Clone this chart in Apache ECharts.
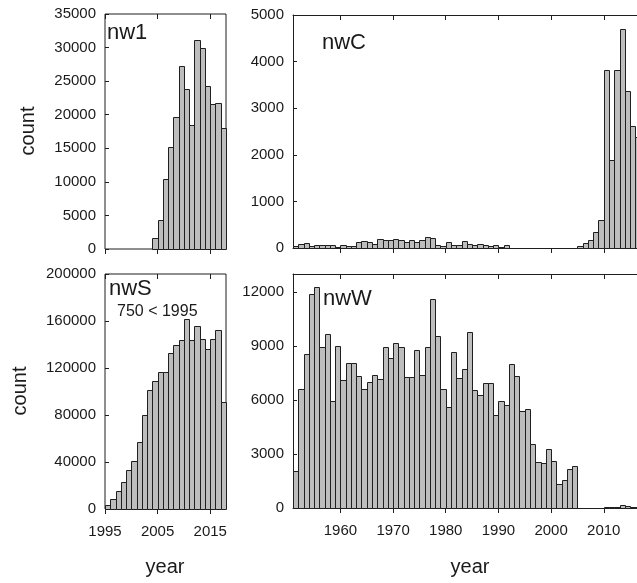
<!DOCTYPE html>
<html>
<head>
<meta charset="utf-8">
<script src="https://cdn.jsdelivr.net/npm/echarts@6/dist/echarts.min.js"></script>
<style>
html,body{margin:0;padding:0;background:#fff;}
#c{width:637px;height:583px;}
</style>
</head>
<body>
<div id="c"></div>
<script>
// ---- data ----
const nw1Start = 2004;
const nw1Counts = [1700, 4300, 10500, 15200, 19700, 27200, 23800, 18400, 31200, 30000, 24300, 21600, 21700, 18000];

const nwSStart = 1995;
const nwSCounts = [3000, 8500, 15300, 23000, 33000, 40800, 57000, 79700, 101000, 109000, 117000, 116500,
  133000, 140000, 143500, 162000, 143500, 155500, 145000, 136500, 144500, 152000, 91000];

const nwCStart = 1951;
const nwCCounts = [50, 80, 115, 50, 75, 65, 60, 65, 30, 70, 40, 50, 125, 150, 125, 90, 200, 175, 175, 185,
  175, 130, 180, 120, 170, 230, 210, 75, 50, 130, 65, 65, 145, 87, 72, 87, 58, 36, 65, 22, 72, 0,
  0, 0, 0, 0, 0, 0, 0, 0, 0, 0, 0, 0,
  35, 107, 164, 343, 607, 3830, 1890, 3830, 4690, 3360, 2610, 2390];

const nwWStart = 1951;
const nwWCounts = [2050, 6590, 8580, 11900, 12300, 8920, 9650, 5930, 8990, 7110, 8070, 8070, 7350, 6590,
  7020, 7380, 7160, 8940, 8340, 9190, 8920, 7290, 7290, 8800, 7400, 8920, 11630, 9540, 6590, 5610,
  8640, 7240, 7700, 9780, 6570, 6300, 6940, 6920, 5170, 5930, 5740, 7980, 7350, 5410, 5500, 3540,
  2550, 2510, 3270, 2600, 1310, 1570, 2180, 2360,
  0, 0, 0, 0, 0, 60, 30, 80, 160, 100, 60, 50];

const leftTicks = [1995, 2005, 2015];
const rightTicks = [1960, 1970, 1980, 1990, 2000, 2010];
const yTicks1 = [0, 5000, 10000, 15000, 20000, 25000, 30000, 35000];
const yTicksC = [0, 1000, 2000, 3000, 4000, 5000];
const yTicksS = [0, 40000, 80000, 120000, 160000, 200000];
const yTicksW = [0, 3000, 6000, 9000, 12000];

function toPairs(start, arr) { return arr.map((v, i) => [start + i, v]); }

// ---- chart ----
const chart = echarts.init(document.getElementById('c'), null, {renderer: 'canvas'});
const FONT = '"Liberation Sans", Arial, sans-serif';
const TXT = '#1a1a1a';
const LINE = '#1f1f1f';

// right-hand panels run off the page edge (cropped), so no right border there
const grids = [
  {left: 105, top: 14, width: 121, height: 235, show: true},
  {left: 293, top: 15, width: 344, height: 233, show: false},
  {left: 105, top: 274, width: 121, height: 235, show: true},
  {left: 293, top: 274, width: 344, height: 234, show: false}
].map(g => Object.assign(g, {borderColor: LINE, borderWidth: 1, backgroundColor: 'transparent'}));

const xRanges = [[1995, 2018], [1951, 2016.31], [1995, 2018], [1951, 2016.31]];
const xTickSets = [leftTicks, rightTicks, leftTicks, rightTicks];
const yMax = [35000, 5000, 200000, 13000];
const yTickSets = [yTicks1, yTicksC, yTicksS, yTicksW];
const plain = v => String(Math.round(v));

const xAxes = [];
const yAxes = [];
for (let g = 0; g < 4; g++) {
  const showLabels = (g >= 2);
  const openPanel = (g === 1 || g === 3);
  const axLine = {show: openPanel, lineStyle: {color: LINE, width: 1}};
  xAxes.push({
    type: 'value', gridIndex: g, position: 'bottom', min: xRanges[g][0], max: xRanges[g][1],
    axisLine: axLine, splitLine: {show: false},
    axisTick: {show: true, inside: false, length: 5, lineStyle: {color: LINE, width: 1}, customValues: xTickSets[g]},
    axisLabel: {show: showLabels, customValues: xTickSets[g], formatter: plain, margin: 15, fontSize: 15, color: TXT, fontFamily: FONT}
  });
  xAxes.push({
    type: 'value', gridIndex: g, position: 'top', min: xRanges[g][0], max: xRanges[g][1],
    axisLine: axLine, splitLine: {show: false},
    axisTick: {show: true, inside: true, length: 5, lineStyle: {color: LINE, width: 1}, customValues: xTickSets[g]},
    axisLabel: {show: false}
  });
  yAxes.push({
    type: 'value', gridIndex: g, min: 0, max: yMax[g],
    axisLine: axLine, splitLine: {show: false},
    axisTick: {show: true, inside: true, length: 4, lineStyle: {color: LINE, width: 1}, customValues: yTickSets[g]},
    axisLabel: {show: true, customValues: yTickSets[g], formatter: plain, margin: 9, fontSize: 15, color: TXT, fontFamily: FONT}
  });
}

function renderBar(params, api) {
  const x0 = api.value(0), v = api.value(1);
  const p0 = api.coord([x0, 0]);
  const p1 = api.coord([x0 + 1, v]);
  const cs = params.coordSys;
  const maxX = cs.x + cs.width;
  const xa = Math.round(p0[0]) + 0.5;
  if (xa >= maxX) return null;
  let xb = Math.round(p1[0]) + 0.5;
  if (xb > maxX + 1) xb = maxX + 3; // cropped at the page edge
  const yb = Math.round(p0[1]) + 0.5;
  const yt = Math.round(p1[1]) + 0.5;
  return {
    type: 'rect',
    shape: {x: xa, y: yt, width: xb - xa, height: yb - yt},
    style: {fill: '#bdbdbd', stroke: LINE, lineWidth: 1}
  };
}

const datasets = [toPairs(nw1Start, nw1Counts), toPairs(nwCStart, nwCCounts), toPairs(nwSStart, nwSCounts), toPairs(nwWStart, nwWCounts)];
const series = datasets.map((d, g) => ({
  type: 'custom', xAxisIndex: g * 2, yAxisIndex: g, data: d, renderItem: renderBar,
  silent: true, animation: false
}));

function txt(x, y, s, size, extra) {
  return {
    type: 'text', x: x, y: y, silent: true,
    style: Object.assign({text: s, fontSize: size, fontFamily: FONT, fill: TXT}, extra || {})
  };
}

const graphics = [
  txt(107, 22, 'nw1', 22, {verticalAlign: 'top'}),
  txt(322, 32, 'nwC', 22, {verticalAlign: 'top'}),
  txt(109, 278, 'nwS', 22, {verticalAlign: 'top'}),
  txt(323, 288, 'nwW', 22, {verticalAlign: 'top'}),
  txt(117, 304, '750 < 1995', 16, {verticalAlign: 'top'}),
  Object.assign(txt(28, 131, 'count', 20, {align: 'center', verticalAlign: 'middle'}), {rotation: Math.PI / 2}),
  Object.assign(txt(20, 391, 'count', 20, {align: 'center', verticalAlign: 'middle'}), {rotation: Math.PI / 2}),
  txt(165, 567, 'year', 20, {align: 'center', verticalAlign: 'middle'}),
  txt(470, 567, 'year', 20, {align: 'center', verticalAlign: 'middle'})
];

chart.setOption({
  animation: false,
  backgroundColor: '#fff',
  grid: grids,
  xAxis: xAxes,
  yAxis: yAxes,
  series: series,
  graphic: graphics
});
</script>
</body>
</html>
